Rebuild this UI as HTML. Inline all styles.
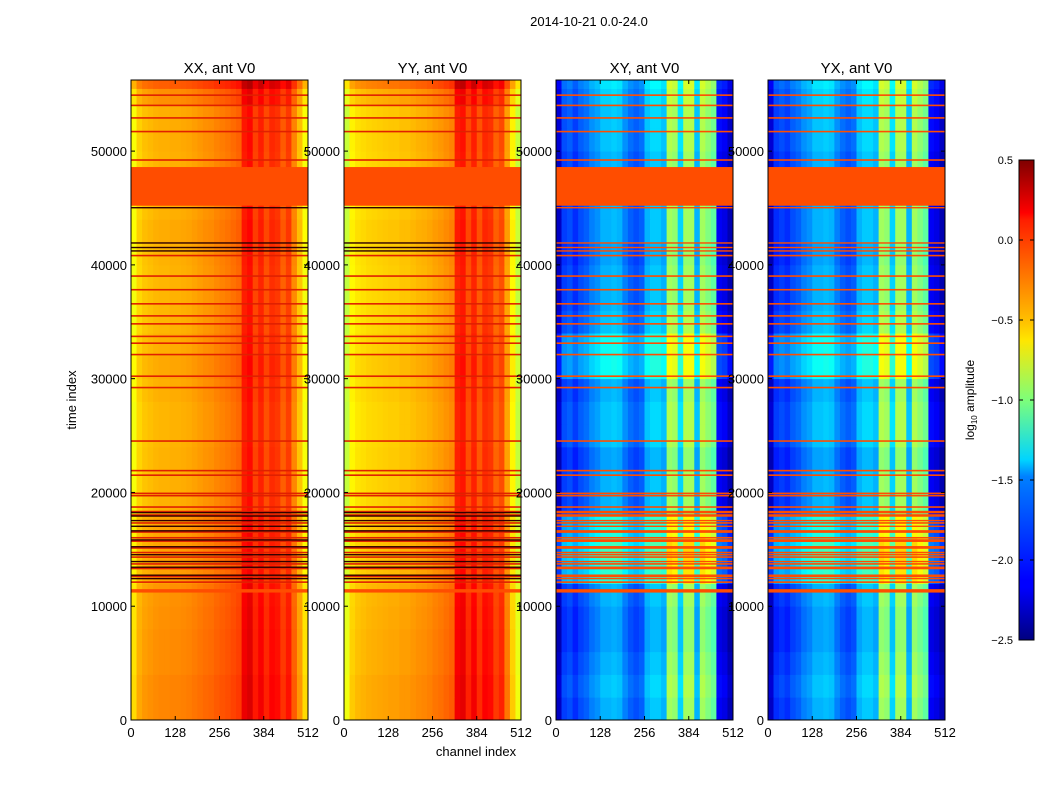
<!DOCTYPE html>
<html><head><meta charset="utf-8"><style>
body{margin:0;background:#fff;}
svg{display:block;font-family:"Liberation Sans",sans-serif;}
</style></head><body>
<svg id="fig" width="1050" height="800" viewBox="0 0 1050 800">
<rect width="1050" height="800" fill="#fff"/>
<text x="589" y="26" font-size="13" text-anchor="middle">2014-10-21 0.0-24.0</text>
<text x="76" y="400" font-size="13" text-anchor="middle" transform="rotate(-90 76 400)">time index</text>
<text x="476" y="756" font-size="13" text-anchor="middle">channel index</text>
<defs><linearGradient id="jet" x1="0" y1="1" x2="0" y2="0">
<stop offset="0" stop-color="#00007f"/><stop offset="0.11" stop-color="#0000ff"/><stop offset="0.125" stop-color="#0000ff"/><stop offset="0.34" stop-color="#0080ff"/><stop offset="0.375" stop-color="#00d4ff"/><stop offset="0.5" stop-color="#7dff7a"/><stop offset="0.625" stop-color="#ffe600"/><stop offset="0.66" stop-color="#ffc400"/><stop offset="0.875" stop-color="#ff1e00"/><stop offset="0.89" stop-color="#ff0000"/><stop offset="1" stop-color="#7f0000"/>
</linearGradient></defs>
<g>
<rect x="1019" y="160" width="15" height="480" fill="url(#jet)" stroke="#000" stroke-width="1"/>
</g>
<text x="974" y="400" font-size="12" text-anchor="middle" transform="rotate(-90 974 400)">log<tspan font-size="8" dy="3">10</tspan><tspan dy="-3"> amplitude</tspan></text>
<g id="panels"></g>
<g id="cbticks"></g>
</svg>
<script>
// ---- data ----
const panelTitles = ["XX, ant V0","YY, ant V0","XY, ant V0","YX, ant V0"];
const channelTicks = [0,128,256,384,512];
const timeTicks = [0,10000,20000,30000,40000,50000];
const cbTicks = [0.5,0.0,-0.5,-1.0,-1.5,-2.0,-2.5];
const timeBinEdges = [0,2000,4000,6000,8000,10000,12000,14000,16000,18000,20000,22000,24000,26000,28000,30000,32000,34000,36000,38000,40000,42000,44000,46000,48000,50000,52000,54000,55500,56250];
const profXX = [-0.6,-0.45,-0.4,-0.38,-0.36,-0.35,-0.35,-0.34,-0.34,-0.33,-0.32,-0.3,-0.28,-0.26,-0.25,-0.22,-0.2,-0.18,-0.15,-0.12,0.1,0.15,-0.02,0.08,-0.05,0.05,0.02,-0.1,0.0,-0.22,-0.4,-0.6];
const profYY = [-0.75,-0.55,-0.5,-0.48,-0.46,-0.45,-0.44,-0.43,-0.42,-0.42,-0.4,-0.4,-0.38,-0.36,-0.35,-0.33,-0.3,-0.28,-0.25,-0.22,0.08,0.12,-0.05,0.08,-0.08,0.05,0.02,-0.12,-0.05,-0.3,-0.55,-0.75];
const profXY = [-2.35,-2.0,-1.95,-2.05,-1.95,-1.9,-1.8,-1.75,-1.65,-1.65,-1.62,-1.65,-1.8,-1.9,-1.95,-1.9,-1.65,-1.58,-1.58,-1.65,-0.95,-1.0,-1.55,-0.95,-0.95,-1.65,-0.95,-1.05,-1.15,-2.2,-2.25,-2.4];
const profYX = [-2.35,-2.05,-2.0,-2.05,-1.95,-1.9,-1.8,-1.75,-1.65,-1.65,-1.62,-1.65,-1.8,-1.9,-1.95,-1.9,-1.65,-1.58,-1.58,-1.65,-0.95,-1.0,-1.55,-0.95,-0.95,-1.65,-0.95,-1.05,-1.15,-2.2,-2.25,-2.4];
const rowXX = [0.08,0.08,0.06,0.06,0.05,0.04,0.0,0.0,0.0,-0.05,-0.05,-0.05,-0.06,-0.06,-0.04,-0.02,-0.04,-0.06,-0.06,-0.06,-0.05,-0.03,-0.05,-0.05,-0.05,-0.04,-0.04,0.05,0.2];
const rowXY = [0.05,0.1,0.05,0.0,0.0,0.05,0.4,0.45,0.35,0.05,0.05,0.0,0.1,0.1,0.05,0.3,0.3,0.1,0.05,0.05,0.0,0.05,0.05,0.05,0.05,0.1,0.1,0.15,0.2];
const flagBands = [[45200,48600],[11200,11500]];
const flagValue = -0.1;
const flagLines = [54900,54000,52900,51700,49200,40800,39000,37800,36560,35500,34800,33700,33100,32100,30200,29200,24500,21900,21500,19900,19700,18700,18300,18000,17300,16500,16000,15700,15100,14700,14300,13700,13300,12600,12100];
const darkLines = [45000,41900,41500,41200,18200,17900,17500,17000,16600,15800,15200,14500,13900,13400,12700,12400];

// ---- layout ----
const panelX = [131,344,556,768], panelW = 177, plotTop = 80, plotBottom = 720;
const tMax = 56250, chMax = 512;
function yScale(t){return plotBottom-(t/tMax)*(plotBottom-plotTop);}
function xScale(px,c){return px+(c/chMax)*panelW;}
function jet(v){
  let x=(v+2.5)/3; x=Math.max(0,Math.min(1,x));
  const c=f=>Math.round(255*Math.max(0,Math.min(1,f)));
  return `rgb(${c(1.5-Math.abs(4*x-3))},${c(1.5-Math.abs(4*x-2))},${c(1.5-Math.abs(4*x-1))})`;
}
const NS="http://www.w3.org/2000/svg";
function mk(tag,attrs,parent){const e=document.createElementNS(NS,tag);for(const k in attrs)e.setAttribute(k,attrs[k]);parent.appendChild(e);return e;}
const root=document.getElementById('panels');
const profiles=[profXX,profYY,profXY,profYX];
const rows=[rowXX,rowXX,rowXY,rowXY];
for(let p=0;p<4;p++){
  const px=panelX[p];
  const g=mk('g',{},root);
  
  
  const prof=profiles[p], row=rows[p], nb=prof.length, cw=chMax/nb;
  for(let r=0;r<timeBinEdges.length-1;r++){
    const y0=yScale(timeBinEdges[r+1]), y1=yScale(timeBinEdges[r]);
    for(let c=0;c<nb;c++){
      const x0=xScale(px,c*cw), x1=xScale(px,(c+1)*cw);
      const cell=mk('rect',{x:x0,y:y0,width:x1-x0+0.4,height:y1-y0+0.4,fill:jet(prof[c]+row[r])},g);
      
      
    }
  }
  for(const b of flagBands){
    const band=mk('rect',{x:px,y:yScale(b[1]),width:panelW,height:yScale(b[0])-yScale(b[1]),fill:jet(flagValue)},g);
    
    
  }
  for(const t of flagLines){
    const ln=mk('rect',{x:px,y:yScale(t)-1,width:panelW,height:1.6,fill:p<2?'#e02000':jet(flagValue)},g);
    
    
  }
  for(const t of darkLines){
    const ln=mk('rect',{x:px,y:yScale(t)-1,width:panelW,height:1.4,fill:p<2?'#300000':jet(flagValue)},g);
    
    
  }
  const frame=mk('rect',{x:px,y:plotTop,width:panelW,height:plotBottom-plotTop,fill:'none',stroke:'#000','stroke-width':1},g);
  
  
  const ti=mk('text',{x:px+panelW/2,y:73,'font-size':15,'text-anchor':'middle'},g);
  ti.textContent=panelTitles[p];
  
  
  for(const c of channelTicks){
    const x=xScale(px,c);
    mk('line',{x1:x,x2:x,y1:plotBottom,y2:plotBottom-4,stroke:'#000'},g);
    mk('line',{x1:x,x2:x,y1:plotTop,y2:plotTop+4,stroke:'#000'},g);
    const lb=mk('text',{x:x,y:plotBottom+17,'font-size':13,'text-anchor':'middle'},g);
    lb.textContent=c;
    
    
  }
  for(const t of timeTicks){
    const y=yScale(t);
    mk('line',{x1:px,x2:px+4,y1:y,y2:y,stroke:'#000'},g);
    mk('line',{x1:px+panelW,x2:px+panelW-4,y1:y,y2:y,stroke:'#000'},g);
    const lb=mk('text',{x:px-4,y:y+5,'font-size':13,'text-anchor':'end'},g);
    lb.textContent=t;
    
    
  }
}
const cbg=document.getElementById('cbticks');
for(const v of cbTicks){
  const y=160+(0.5-v)/3*480;
  mk('line',{x1:1019,x2:1023,y1:y,y2:y,stroke:'#000'},cbg);
  mk('line',{x1:1034,x2:1030,y1:y,y2:y,stroke:'#000'},cbg);
  const lb=mk('text',{x:1013,y:y+4,'font-size':11,'text-anchor':'end'},cbg);
  lb.textContent=(v<0?'\u2212':'')+Math.abs(v).toFixed(1);
  
  
}
</script>
</body></html>
